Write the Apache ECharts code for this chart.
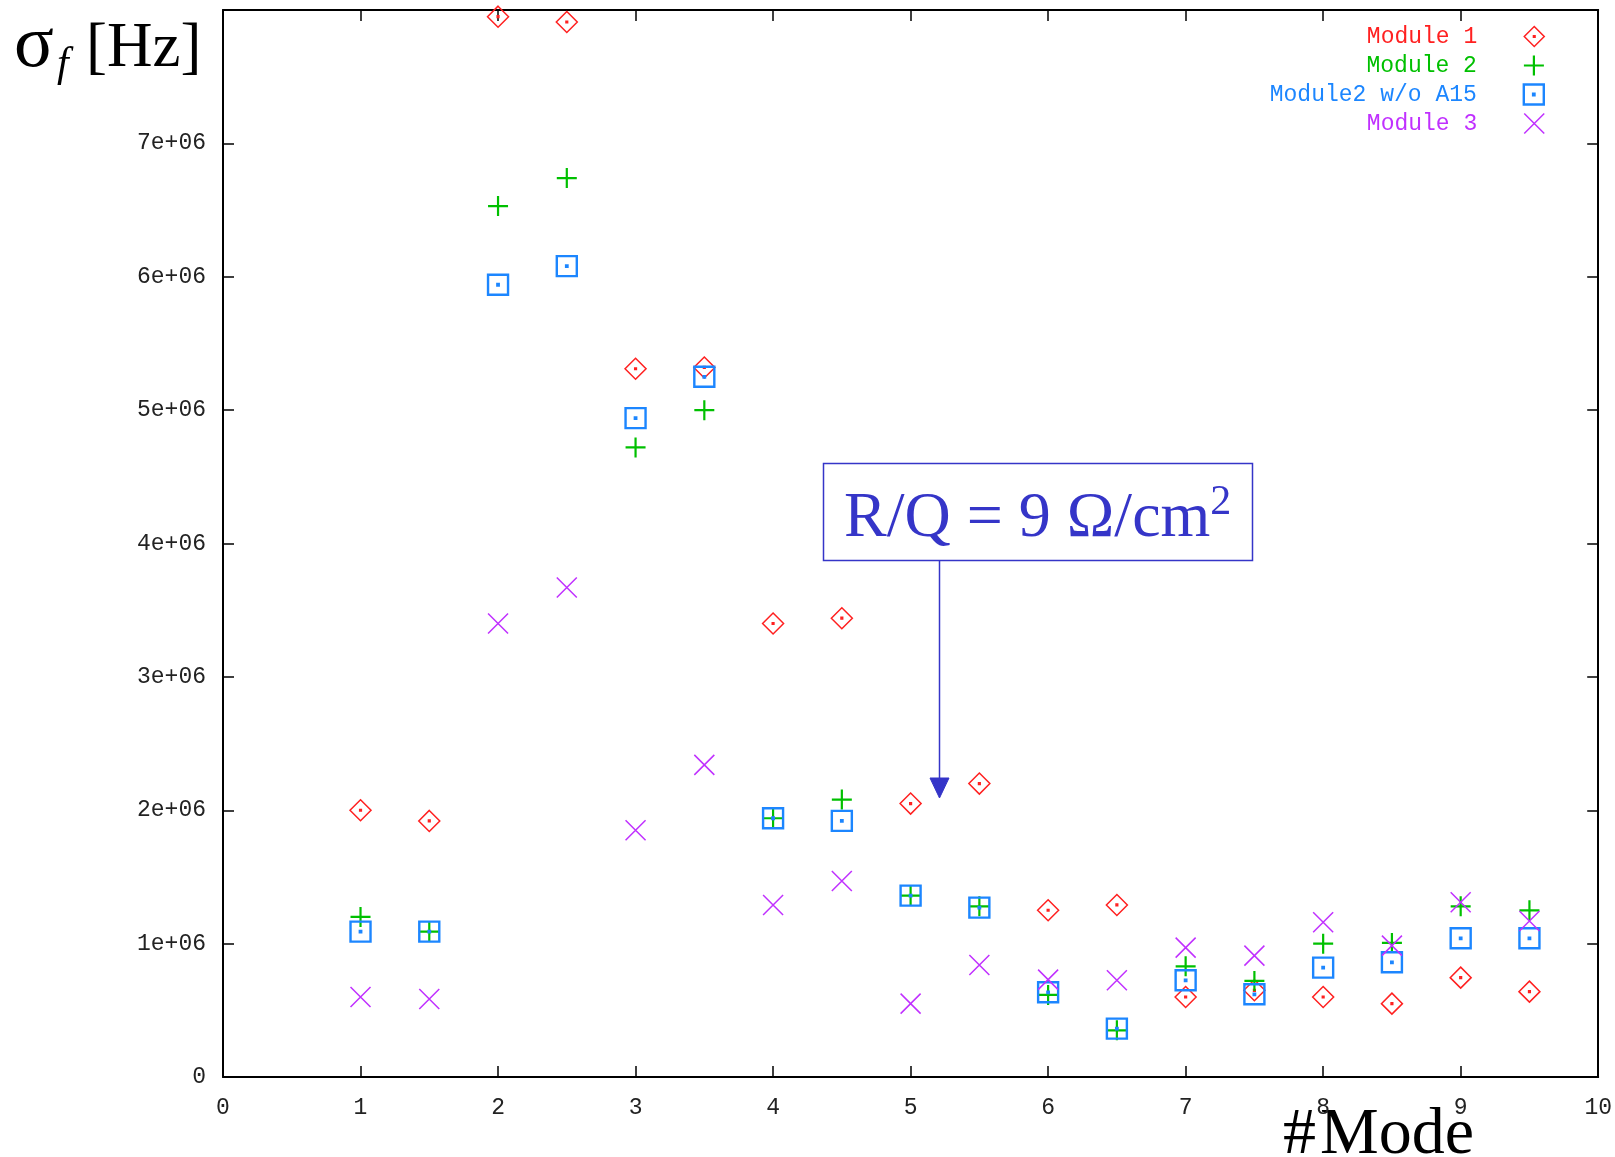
<!DOCTYPE html>
<html>
<head>
<meta charset="utf-8">
<script src="https://cdn.jsdelivr.net/npm/echarts@6/dist/echarts.min.js"></script>
<style>
  html, body { margin: 0; padding: 0; background: #fff; }
  #chart { width: 1615px; height: 1157px; }
</style>
</head>
<body>
<div id="chart"></div>
<script>
// Mode number (x) and frequency spread sigma_f in Hz (y) for each module
const modes = [1, 1.5, 2, 2.5, 3, 3.5, 4, 4.5, 5, 5.5, 6, 6.5, 7, 7.5, 8, 8.5, 9, 9.5];
const module1 = [2.00e6, 1.92e6, 7.95e6, 7.91e6, 5.31e6, 5.32e6, 3.40e6, 3.44e6, 2.05e6, 2.20e6, 1.25e6, 1.29e6, 0.60e6, 0.65e6, 0.60e6, 0.55e6, 0.745e6, 0.64e6];
const module2 = [1.20e6, 1.09e6, 6.53e6, 6.74e6, 4.72e6, 5.00e6, 1.94e6, 2.08e6, 1.36e6, 1.28e6, 0.615e6, 0.35e6, 0.83e6, 0.72e6, 1.00e6, 1.005e6, 1.28e6, 1.25e6];
const module2NoA15 = [1.09e6, 1.09e6, 5.94e6, 6.08e6, 4.94e6, 5.25e6, 1.94e6, 1.92e6, 1.36e6, 1.27e6, 0.635e6, 0.363e6, 0.725e6, 0.62e6, 0.82e6, 0.86e6, 1.04e6, 1.04e6];
const module3 = [0.60e6, 0.585e6, 3.40e6, 3.67e6, 1.85e6, 2.34e6, 1.29e6, 1.47e6, 0.55e6, 0.84e6, 0.73e6, 0.725e6, 0.97e6, 0.91e6, 1.16e6, 0.985e6, 1.31e6, 1.17e6];

const seriesNames = ['Module 1', 'Module 2', 'Module2 w/o A15', 'Module 3'];
const seriesValues = [module1, module2, module2NoA15, module3];

const xTickLabels = ['0', '1', '2', '3', '4', '5', '6', '7', '8', '9', '10'];
const yTickLabels = ['0', '1e+06', '2e+06', '3e+06', '4e+06', '5e+06', '6e+06', '7e+06', ''];

// Point styles: gnuplot-like outline markers
const colors = ['#ff2020', '#00c000', '#1c86ff', '#c030ff'];
const symbols = [
  'path://M10,0L20,10L10,20L0,10Z M9.2,9.2L10.8,9.2L10.8,10.8L9.2,10.8Z',
  'path://M10,0L10,20M0,10L20,10',
  'path://M0,0L20,0L20,20L0,20Z M9.3,9.3L10.7,9.3L10.7,10.7L9.3,10.7Z',
  'path://M0,0L20,20M20,0L0,20'
];
const symbolSizes = [21, 20, 20, 20];
const strokeWidths = [1.5, 2.2, 2.4, 1.5];

const monoFont = '"Liberation Mono", "DejaVu Sans Mono", monospace';
const serifFont = '"Liberation Serif", "DejaVu Serif", serif';
const noteColor = '#3535c8';

const chart = echarts.init(document.getElementById('chart'), null, { renderer: 'canvas' });

const axisLine = { show: true, onZero: false, lineStyle: { color: '#000', width: 2 } };
const axisTick = { show: true, inside: true, length: 11, lineStyle: { color: '#000', width: 1.5 } };

const series = seriesNames.map((name, i) => ({
  name,
  type: 'scatter',
  symbol: symbols[i],
  symbolSize: symbolSizes[i],
  symbolKeepAspect: true,
  itemStyle: { color: 'transparent', borderColor: colors[i], borderWidth: strokeWidths[i], opacity: 1 },
  emphasis: { disabled: true },
  data: modes.map((m, k) => [m, seriesValues[i][k]]),
  z: 3 + i
}));

const legends = seriesNames.map((name, i) => ({
  data: [{ name, textStyle: { color: colors[i] } }],
  orient: 'vertical',
  align: 'right',
  right: 70,
  top: 25 + i * 29,
  padding: 0,
  itemWidth: 20,
  itemHeight: 20,
  itemGap: 0,
  selectedMode: false,
  itemStyle: { borderWidth: strokeWidths[i] },
  textStyle: { fontFamily: monoFont, fontSize: 23, padding: [0, 42, 0, 0] }
}));

chart.setOption({
  animation: false,
  backgroundColor: '#fff',
  grid: { left: 223, right: 15, top: 10, bottom: 80, containLabel: false },
  legend: legends,
  xAxis: [
    {
      type: 'value', position: 'bottom', min: 0, max: 10, interval: 1,
      axisLine, axisTick, splitLine: { show: false },
      axisLabel: {
        margin: 19, color: '#222', fontFamily: monoFont, fontSize: 23,
        formatter: v => xTickLabels[Math.round(v)]
      }
    },
    {
      type: 'value', position: 'top', min: 0, max: 10, interval: 1,
      axisLine, axisTick, splitLine: { show: false }, axisLabel: { show: false }
    }
  ],
  yAxis: [
    {
      type: 'value', position: 'left', min: 0, max: 8e6, interval: 1e6,
      axisLine, axisTick, splitLine: { show: false },
      axisLabel: {
        margin: 17, color: '#222', fontFamily: monoFont, fontSize: 23,
        formatter: v => yTickLabels[Math.round(v / 1e6)]
      }
    },
    {
      type: 'value', position: 'right', min: 0, max: 8e6, interval: 1e6,
      axisLine, axisTick, splitLine: { show: false }, axisLabel: { show: false }
    }
  ],
  series,
  graphic: [
    // y-axis title: sigma_f [Hz]
    { type: 'text', left: 14, top: 10, style: { text: 'σ', font: '74px ' + serifFont, fill: '#000' } },
    { type: 'text', left: 57, top: 44, style: { text: 'f', font: 'italic 42px ' + serifFont, fill: '#000' } },
    { type: 'text', left: 86, top: 18, style: { text: '[Hz]', font: '63px ' + serifFont, fill: '#000' } },
    // x-axis title
    {
      type: 'text', left: 1283, top: 1103,
      style: {
        text: '{a|#}{b|Mode}',
        rich: {
          a: { font: '66px ' + serifFont, fill: '#000', padding: [0, 4, 0, 0] },
          b: { font: '66px ' + serifFont, fill: '#000' }
        }
      }
    },
    // R/Q annotation box with arrow
    {
      type: 'rect', shape: { x: 823.5, y: 463.5, width: 429, height: 97 },
      style: { fill: 'none', stroke: noteColor, lineWidth: 1.5 }
    },
    {
      type: 'text', left: 844, top: 482,
      style: {
        text: '{m|R/Q = 9 Ω/cm}{s|2}',
        rich: {
          m: { font: '64px ' + serifFont, fill: noteColor, lineHeight: 74, verticalAlign: 'middle' },
          s: { font: '42px ' + serifFont, fill: noteColor, lineHeight: 48, verticalAlign: 'top' }
        }
      }
    },
    {
      type: 'line', shape: { x1: 939.5, y1: 561, x2: 939.5, y2: 782 },
      style: { stroke: noteColor, lineWidth: 1.5 }
    },
    {
      type: 'polygon', shape: { points: [[930, 778], [949, 778], [939.5, 798]] },
      style: { fill: noteColor, stroke: noteColor, lineWidth: 1 }
    }
  ]
});
</script>
</body>
</html>
